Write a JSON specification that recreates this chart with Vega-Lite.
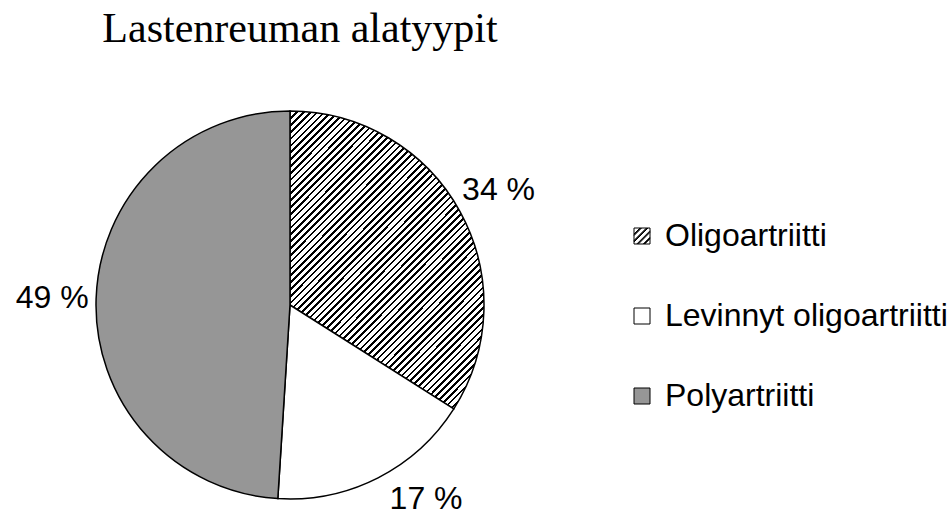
{
  "$schema": "https://vega.github.io/schema/vega-lite/v6.json",
  "width": 580,
  "height": 410,
  "autosize": {"type": "none"},
  "padding": {"left": 0, "top": 100, "right": 369, "bottom": 3},
  "background": "white",
  "config": {"view": {"stroke": null}},
  "title": {
    "text": "Lastenreuman alatyypit",
    "font": "Liberation Serif",
    "fontSize": 42,
    "fontWeight": "normal",
    "color": "black",
    "anchor": "middle",
    "frame": "group",
    "baseline": "alphabetic",
    "offset": 14,
    "dx": 10,
    "dy": -2
  },
  "data": {
    "values": [
      {"cat": "Oligoartriitti", "value": 34, "label": "34 %", "i": 1},
      {"cat": "Levinnyt oligoartriitti", "value": 17, "label": "17 %", "i": 2},
      {"cat": "Polyartriitti", "value": 49, "label": "49 %", "i": 3}
    ]
  },
  "layer": [
    {
      "mark": {"type": "arc", "outerRadius": 194, "stroke": "black", "strokeWidth": 1.5},
      "encoding": {
        "theta": {"field": "value", "type": "quantitative", "stack": true},
        "order": {"field": "i", "type": "quantitative"},
        "fill": {
          "field": "cat",
          "type": "nominal",
          "scale": {
            "domain": ["Oligoartriitti", "Levinnyt oligoartriitti", "Polyartriitti"],
            "range": ["#ffffff", "#ffffff", "#969696"]
          },
          "legend": {
            "title": null, "orient": "none", "legendX": 626, "legendY": 120, "padding": 0,
            "symbolSize": 256, "symbolStrokeWidth": 1, "symbolOpacity": 1,
            "labelFont": "Liberation Sans", "labelFontSize": 32, "labelColor": "black",
            "labelOffset": 7, "labelLimit": 400, "rowPadding": 48
          },
          "condition": {
            "test": "datum.cat === 'Oligoartriitti'",
            "value": {"gradient": "linear", "x1": 0, "y1": 0, "x2": 1, "y2": 1.53, "stops": [
{"offset":0,"color":"#fff"},{"offset":0,"color":"#000"},{"offset":0.004,"color":"#000"},{"offset":0.004,"color":"#fff"},
{"offset":0.0105,"color":"#fff"},{"offset":0.0105,"color":"#000"},{"offset":0.0145,"color":"#000"},{"offset":0.0145,"color":"#fff"},
{"offset":0.021,"color":"#fff"},{"offset":0.021,"color":"#000"},{"offset":0.025,"color":"#000"},{"offset":0.025,"color":"#fff"},
{"offset":0.0315,"color":"#fff"},{"offset":0.0315,"color":"#000"},{"offset":0.0355,"color":"#000"},{"offset":0.0355,"color":"#fff"},
{"offset":0.042,"color":"#fff"},{"offset":0.042,"color":"#000"},{"offset":0.046,"color":"#000"},{"offset":0.046,"color":"#fff"},
{"offset":0.0525,"color":"#fff"},{"offset":0.0525,"color":"#000"},{"offset":0.0565,"color":"#000"},{"offset":0.0565,"color":"#fff"},
{"offset":0.063,"color":"#fff"},{"offset":0.063,"color":"#000"},{"offset":0.067,"color":"#000"},{"offset":0.067,"color":"#fff"},
{"offset":0.0735,"color":"#fff"},{"offset":0.0735,"color":"#000"},{"offset":0.0775,"color":"#000"},{"offset":0.0775,"color":"#fff"},
{"offset":0.084,"color":"#fff"},{"offset":0.084,"color":"#000"},{"offset":0.088,"color":"#000"},{"offset":0.088,"color":"#fff"},
{"offset":0.0945,"color":"#fff"},{"offset":0.0945,"color":"#000"},{"offset":0.0985,"color":"#000"},{"offset":0.0985,"color":"#fff"},
{"offset":0.105,"color":"#fff"},{"offset":0.105,"color":"#000"},{"offset":0.109,"color":"#000"},{"offset":0.109,"color":"#fff"},
{"offset":0.1155,"color":"#fff"},{"offset":0.1155,"color":"#000"},{"offset":0.1195,"color":"#000"},{"offset":0.1195,"color":"#fff"},
{"offset":0.126,"color":"#fff"},{"offset":0.126,"color":"#000"},{"offset":0.13,"color":"#000"},{"offset":0.13,"color":"#fff"},
{"offset":0.1365,"color":"#fff"},{"offset":0.1365,"color":"#000"},{"offset":0.1405,"color":"#000"},{"offset":0.1405,"color":"#fff"},
{"offset":0.147,"color":"#fff"},{"offset":0.147,"color":"#000"},{"offset":0.151,"color":"#000"},{"offset":0.151,"color":"#fff"},
{"offset":0.1575,"color":"#fff"},{"offset":0.1575,"color":"#000"},{"offset":0.1615,"color":"#000"},{"offset":0.1615,"color":"#fff"},
{"offset":0.168,"color":"#fff"},{"offset":0.168,"color":"#000"},{"offset":0.172,"color":"#000"},{"offset":0.172,"color":"#fff"},
{"offset":0.1785,"color":"#fff"},{"offset":0.1785,"color":"#000"},{"offset":0.1825,"color":"#000"},{"offset":0.1825,"color":"#fff"},
{"offset":0.189,"color":"#fff"},{"offset":0.189,"color":"#000"},{"offset":0.193,"color":"#000"},{"offset":0.193,"color":"#fff"},
{"offset":0.1995,"color":"#fff"},{"offset":0.1995,"color":"#000"},{"offset":0.2035,"color":"#000"},{"offset":0.2035,"color":"#fff"},
{"offset":0.21,"color":"#fff"},{"offset":0.21,"color":"#000"},{"offset":0.214,"color":"#000"},{"offset":0.214,"color":"#fff"},
{"offset":0.2205,"color":"#fff"},{"offset":0.2205,"color":"#000"},{"offset":0.2245,"color":"#000"},{"offset":0.2245,"color":"#fff"},
{"offset":0.231,"color":"#fff"},{"offset":0.231,"color":"#000"},{"offset":0.235,"color":"#000"},{"offset":0.235,"color":"#fff"},
{"offset":0.2415,"color":"#fff"},{"offset":0.2415,"color":"#000"},{"offset":0.2455,"color":"#000"},{"offset":0.2455,"color":"#fff"},
{"offset":0.252,"color":"#fff"},{"offset":0.252,"color":"#000"},{"offset":0.256,"color":"#000"},{"offset":0.256,"color":"#fff"},
{"offset":0.2625,"color":"#fff"},{"offset":0.2625,"color":"#000"},{"offset":0.2665,"color":"#000"},{"offset":0.2665,"color":"#fff"},
{"offset":0.273,"color":"#fff"},{"offset":0.273,"color":"#000"},{"offset":0.277,"color":"#000"},{"offset":0.277,"color":"#fff"},
{"offset":0.2835,"color":"#fff"},{"offset":0.2835,"color":"#000"},{"offset":0.2875,"color":"#000"},{"offset":0.2875,"color":"#fff"},
{"offset":0.294,"color":"#fff"},{"offset":0.294,"color":"#000"},{"offset":0.298,"color":"#000"},{"offset":0.298,"color":"#fff"},
{"offset":0.3045,"color":"#fff"},{"offset":0.3045,"color":"#000"},{"offset":0.3085,"color":"#000"},{"offset":0.3085,"color":"#fff"},
{"offset":0.315,"color":"#fff"},{"offset":0.315,"color":"#000"},{"offset":0.319,"color":"#000"},{"offset":0.319,"color":"#fff"},
{"offset":0.3255,"color":"#fff"},{"offset":0.3255,"color":"#000"},{"offset":0.3295,"color":"#000"},{"offset":0.3295,"color":"#fff"},
{"offset":0.336,"color":"#fff"},{"offset":0.336,"color":"#000"},{"offset":0.34,"color":"#000"},{"offset":0.34,"color":"#fff"},
{"offset":0.3465,"color":"#fff"},{"offset":0.3465,"color":"#000"},{"offset":0.3505,"color":"#000"},{"offset":0.3505,"color":"#fff"},
{"offset":0.357,"color":"#fff"},{"offset":0.357,"color":"#000"},{"offset":0.361,"color":"#000"},{"offset":0.361,"color":"#fff"},
{"offset":0.3675,"color":"#fff"},{"offset":0.3675,"color":"#000"},{"offset":0.3715,"color":"#000"},{"offset":0.3715,"color":"#fff"},
{"offset":0.378,"color":"#fff"},{"offset":0.378,"color":"#000"},{"offset":0.382,"color":"#000"},{"offset":0.382,"color":"#fff"},
{"offset":0.3885,"color":"#fff"},{"offset":0.3885,"color":"#000"},{"offset":0.3925,"color":"#000"},{"offset":0.3925,"color":"#fff"},
{"offset":0.399,"color":"#fff"},{"offset":0.399,"color":"#000"},{"offset":0.403,"color":"#000"},{"offset":0.403,"color":"#fff"},
{"offset":0.4095,"color":"#fff"},{"offset":0.4095,"color":"#000"},{"offset":0.4135,"color":"#000"},{"offset":0.4135,"color":"#fff"},
{"offset":0.42,"color":"#fff"},{"offset":0.42,"color":"#000"},{"offset":0.424,"color":"#000"},{"offset":0.424,"color":"#fff"},
{"offset":0.4305,"color":"#fff"},{"offset":0.4305,"color":"#000"},{"offset":0.4345,"color":"#000"},{"offset":0.4345,"color":"#fff"},
{"offset":0.441,"color":"#fff"},{"offset":0.441,"color":"#000"},{"offset":0.445,"color":"#000"},{"offset":0.445,"color":"#fff"},
{"offset":0.4515,"color":"#fff"},{"offset":0.4515,"color":"#000"},{"offset":0.4555,"color":"#000"},{"offset":0.4555,"color":"#fff"},
{"offset":0.462,"color":"#fff"},{"offset":0.462,"color":"#000"},{"offset":0.466,"color":"#000"},{"offset":0.466,"color":"#fff"},
{"offset":0.4725,"color":"#fff"},{"offset":0.4725,"color":"#000"},{"offset":0.4765,"color":"#000"},{"offset":0.4765,"color":"#fff"},
{"offset":0.483,"color":"#fff"},{"offset":0.483,"color":"#000"},{"offset":0.487,"color":"#000"},{"offset":0.487,"color":"#fff"},
{"offset":0.4935,"color":"#fff"},{"offset":0.4935,"color":"#000"},{"offset":0.4975,"color":"#000"},{"offset":0.4975,"color":"#fff"},
{"offset":0.504,"color":"#fff"},{"offset":0.504,"color":"#000"},{"offset":0.508,"color":"#000"},{"offset":0.508,"color":"#fff"},
{"offset":0.5145,"color":"#fff"},{"offset":0.5145,"color":"#000"},{"offset":0.5185,"color":"#000"},{"offset":0.5185,"color":"#fff"},
{"offset":0.525,"color":"#fff"},{"offset":0.525,"color":"#000"},{"offset":0.529,"color":"#000"},{"offset":0.529,"color":"#fff"},
{"offset":0.5355,"color":"#fff"},{"offset":0.5355,"color":"#000"},{"offset":0.5395,"color":"#000"},{"offset":0.5395,"color":"#fff"},
{"offset":0.546,"color":"#fff"},{"offset":0.546,"color":"#000"},{"offset":0.55,"color":"#000"},{"offset":0.55,"color":"#fff"},
{"offset":0.5565,"color":"#fff"},{"offset":0.5565,"color":"#000"},{"offset":0.5605,"color":"#000"},{"offset":0.5605,"color":"#fff"},
{"offset":0.567,"color":"#fff"},{"offset":0.567,"color":"#000"},{"offset":0.571,"color":"#000"},{"offset":0.571,"color":"#fff"},
{"offset":0.5775,"color":"#fff"},{"offset":0.5775,"color":"#000"},{"offset":0.5815,"color":"#000"},{"offset":0.5815,"color":"#fff"},
{"offset":0.588,"color":"#fff"},{"offset":0.588,"color":"#000"},{"offset":0.592,"color":"#000"},{"offset":0.592,"color":"#fff"},
{"offset":0.5985,"color":"#fff"},{"offset":0.5985,"color":"#000"},{"offset":0.6025,"color":"#000"},{"offset":0.6025,"color":"#fff"},
{"offset":0.609,"color":"#fff"},{"offset":0.609,"color":"#000"},{"offset":0.613,"color":"#000"},{"offset":0.613,"color":"#fff"},
{"offset":0.6195,"color":"#fff"},{"offset":0.6195,"color":"#000"},{"offset":0.6235,"color":"#000"},{"offset":0.6235,"color":"#fff"},
{"offset":0.63,"color":"#fff"},{"offset":0.63,"color":"#000"},{"offset":0.634,"color":"#000"},{"offset":0.634,"color":"#fff"},
{"offset":0.6405,"color":"#fff"},{"offset":0.6405,"color":"#000"},{"offset":0.6445,"color":"#000"},{"offset":0.6445,"color":"#fff"},
{"offset":0.651,"color":"#fff"},{"offset":0.651,"color":"#000"},{"offset":0.655,"color":"#000"},{"offset":0.655,"color":"#fff"},
{"offset":0.6615,"color":"#fff"},{"offset":0.6615,"color":"#000"},{"offset":0.6655,"color":"#000"},{"offset":0.6655,"color":"#fff"},
{"offset":0.672,"color":"#fff"},{"offset":0.672,"color":"#000"},{"offset":0.676,"color":"#000"},{"offset":0.676,"color":"#fff"},
{"offset":0.6825,"color":"#fff"},{"offset":0.6825,"color":"#000"},{"offset":0.6865,"color":"#000"},{"offset":0.6865,"color":"#fff"},
{"offset":0.693,"color":"#fff"},{"offset":0.693,"color":"#000"},{"offset":0.697,"color":"#000"},{"offset":0.697,"color":"#fff"},
{"offset":0.7035,"color":"#fff"},{"offset":0.7035,"color":"#000"},{"offset":0.7075,"color":"#000"},{"offset":0.7075,"color":"#fff"},
{"offset":0.714,"color":"#fff"},{"offset":0.714,"color":"#000"},{"offset":0.718,"color":"#000"},{"offset":0.718,"color":"#fff"},
{"offset":0.7245,"color":"#fff"},{"offset":0.7245,"color":"#000"},{"offset":0.7285,"color":"#000"},{"offset":0.7285,"color":"#fff"},
{"offset":0.735,"color":"#fff"},{"offset":0.735,"color":"#000"},{"offset":0.739,"color":"#000"},{"offset":0.739,"color":"#fff"},
{"offset":0.7455,"color":"#fff"},{"offset":0.7455,"color":"#000"},{"offset":0.7495,"color":"#000"},{"offset":0.7495,"color":"#fff"},
{"offset":0.756,"color":"#fff"},{"offset":0.756,"color":"#000"},{"offset":0.76,"color":"#000"},{"offset":0.76,"color":"#fff"},
{"offset":0.7665,"color":"#fff"},{"offset":0.7665,"color":"#000"},{"offset":0.7705,"color":"#000"},{"offset":0.7705,"color":"#fff"},
{"offset":0.777,"color":"#fff"},{"offset":0.777,"color":"#000"},{"offset":0.781,"color":"#000"},{"offset":0.781,"color":"#fff"},
{"offset":1,"color":"#fff"}
            ]}
          }
        }
      }
    },
    {
      "mark": {"type": "point", "filled": true, "opacity": 0, "size": 0, "stroke": "black", "strokeWidth": 1},
      "encoding": {
        "fill": {
          "field": "cat",
          "type": "nominal",
          "legend": {
            "title": null, "orient": "none", "legendX": 626, "legendY": 120, "padding": 0,
            "symbolSize": 256, "symbolStrokeWidth": 1, "symbolOpacity": 1,
            "labelFont": "Liberation Sans", "labelFontSize": 32, "labelColor": "black",
            "labelOffset": 7, "labelLimit": 400, "rowPadding": 48
          }
        },
        "shape": {
          "field": "cat",
          "type": "nominal",
          "scale": {
            "domain": ["Oligoartriitti", "Levinnyt oligoartriitti", "Polyartriitti"],
            "range": [
              "M-1,-1H1V1H-1Z M-1,-0.25L-0.25,-1 M-1,-0.15L-0.15,-1 M-1,-0.05L-0.05,-1 M-1,0.55L0.55,-1 M-1,0.65L0.65,-1 M-1,0.75L0.75,-1 M-0.65,1L1,-0.65 M-0.55,1L1,-0.55 M-0.45,1L1,-0.45 M0.15,1L1,0.15 M0.25,1L1,0.25 M0.35,1L1,0.35",
              "square",
              "square"
            ]
          },
          "legend": {
            "title": null, "orient": "none", "legendX": 626, "legendY": 120, "padding": 0,
            "symbolSize": 256, "symbolStrokeWidth": 1, "symbolOpacity": 1,
            "labelFont": "Liberation Sans", "labelFontSize": 32, "labelColor": "black",
            "labelOffset": 7, "labelLimit": 400, "rowPadding": 48
          }
        }
      }
    },
    {
      "mark": {"type": "text", "radius": 238, "font": "Liberation Sans", "fontSize": 32, "color": "black", "align": "center", "baseline": "middle"},
      "encoding": {
        "theta": {"field": "value", "type": "quantitative", "stack": true},
        "order": {"field": "i", "type": "quantitative"},
        "text": {"condition": {"test": "datum.i === 2", "value": ""}, "field": "label", "type": "nominal"}
      }
    },
    {
      "mark": {"type": "text", "radius": 238, "dx": 28, "dy": -18, "font": "Liberation Sans", "fontSize": 32, "color": "black", "align": "center", "baseline": "middle"},
      "encoding": {
        "theta": {"field": "value", "type": "quantitative", "stack": true},
        "order": {"field": "i", "type": "quantitative"},
        "text": {"condition": {"test": "datum.i !== 2", "value": ""}, "field": "label", "type": "nominal"}
      }
    }
  ]
}
